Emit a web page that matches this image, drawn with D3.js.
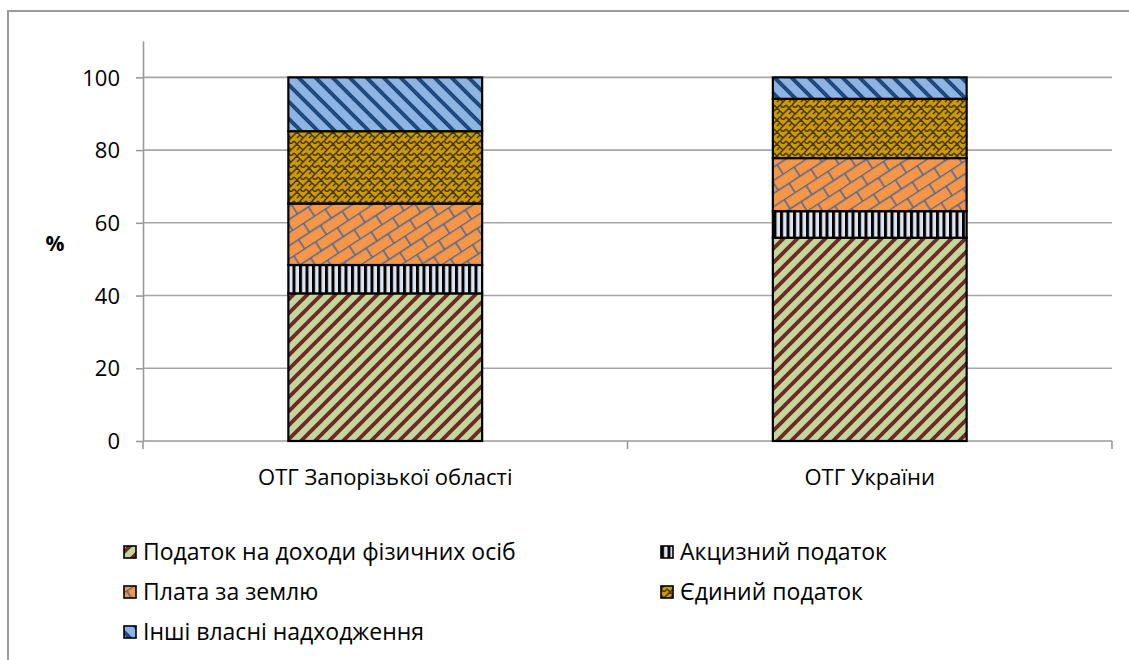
<!DOCTYPE html>
<html>
<head>
<meta charset="utf-8">
<script src="https://cdn.jsdelivr.net/npm/d3@7"></script>
<style>
  html, body { margin: 0; padding: 0; background: #fff; }
  svg { display: block; }
  text { font-family: "Open Sans", "Liberation Sans", sans-serif; fill: #000; }
</style>
</head>
<body>
<svg id="chart" width="1129" height="660"></svg>
<script>
// Structure of own revenues of united territorial communities, %
const categories = ["ОТГ Запорізької області", "ОТГ України"];
const seriesNames = [
  "Податок на доходи фізичних осіб",
  "Акцизний податок",
  "Плата за землю",
  "Єдиний податок",
  "Інші власні надходження"
];
const pitValues    = [40.6, 55.9];
const exciseValues = [7.8, 7.3];
const landValues   = [16.9, 14.6];
const singleValues = [19.9, 16.3];
const otherValues  = [14.8, 5.9];
const yTicks = [0, 20, 40, 60, 80, 100];
const yLabel = "%";

const seriesValues = [pitValues, exciseValues, landValues, singleValues, otherValues];
const rows = categories.map((c, i) => {
  const r = { category: c };
  seriesNames.forEach((s, k) => { r[s] = seriesValues[k][i]; });
  return r;
});

const svg = d3.select("#chart");
const defs = svg.append("defs");

// ---- fill patterns ----
function pattern(id, w, h, bg, draw, transform) {
  const p = defs.append("pattern")
    .attr("id", id).attr("patternUnits", "userSpaceOnUse")
    .attr("width", w).attr("height", h);
  if (transform) p.attr("patternTransform", transform);
  p.append("rect").attr("width", w).attr("height", h).attr("fill", bg);
  draw(p);
}
// wide upward diagonal
pattern("p-pit", 14, 14, "#c3d69b", p => {
  p.append("path").attr("d", "M-2,16 L16,-2 M-9,9 L9,-9 M5,23 L23,5")
    .attr("stroke", "#6e2a25").attr("stroke-width", 3.8);
});
// vertical stripes
pattern("p-excise", 6.5, 10, "#dce6f2", p => {
  p.append("rect").attr("x", 0).attr("width", 3).attr("height", 10).attr("fill", "#000");
});
// diagonal brick
pattern("p-land", 26, 22, "#f79646", p => {
  p.append("path")
    .attr("d", "M0,0.5 H26 M0,11.5 H26 M3,0.5 V11.5 M16,11.5 V22.5")
    .attr("stroke", "#48689a").attr("stroke-width", 1.5).attr("fill", "none");
}, "rotate(-33)");
// weave
pattern("p-single", 12, 12, "#cc9900", p => {
  p.append("path")
    .attr("d", "M0,3 L3,6 L6,3 M6,9 L9,12 L12,9 M6,3 L9,0 L12,3 M0,9 L3,6 M3,12 L0,9 M9,6 L12,3 M6,9 L3,12")
    .attr("stroke", "#2e2300").attr("stroke-width", 1.5).attr("fill", "none").attr("opacity", 0.85);
});
// wide downward diagonal
pattern("p-other", 17, 17, "#8eb4e3", p => {
  p.append("path").attr("d", "M-2,-2 L19,19 M-11,6 L11,28 M6,-11 L28,11")
    .attr("stroke", "#1f4a7d").attr("stroke-width", 4);
});
const fills = ["url(#p-pit)", "url(#p-excise)", "url(#p-land)", "url(#p-single)", "url(#p-other)"];

// ---- chart frame ----
svg.append("rect")
  .attr("x", 8).attr("y", 11).attr("width", 1140).attr("height", 680)
  .attr("fill", "none").attr("stroke", "#9a9a9a").attr("stroke-width", 2);

// ---- scales ----
const x = d3.scaleBand().domain(categories).range([143, 1112])
  .paddingInner(0.6).paddingOuter(0.3);
const y = d3.scaleLinear().domain([0, 110]).range([441, 41]);

// gridlines
svg.append("g").selectAll("line").data(yTicks.slice(1)).join("line")
  .attr("x1", 143).attr("x2", 1112)
  .attr("y1", d => y(d)).attr("y2", d => y(d))
  .attr("stroke", "#a6a6a6").attr("stroke-width", 1.6);

// y axis
const yAxis = svg.append("g").attr("transform", "translate(143,0)")
  .call(d3.axisLeft(y).tickValues(yTicks).tickSize(7).tickPadding(16).tickSizeOuter(0));
yAxis.select(".domain").attr("stroke", "#9a9a9a").attr("stroke-width", 1.6);
yAxis.selectAll(".tick line").attr("stroke", "#9a9a9a").attr("stroke-width", 1.6);
yAxis.selectAll(".tick text").style("font-size", "22px").attr("dy", "0.35em");

// x axis line and category separators
svg.append("line").attr("x1", 143).attr("x2", 1112).attr("y1", y(0)).attr("y2", y(0))
  .attr("stroke", "#9a9a9a").attr("stroke-width", 1.6);
const bounds = d3.range(categories.length + 1).map(i => x.range()[0] + i * x.step());
svg.append("g").selectAll("line").data(bounds).join("line")
  .attr("x1", d => d).attr("x2", d => d).attr("y1", y(0)).attr("y2", y(0) + 8)
  .attr("stroke", "#9a9a9a").attr("stroke-width", 1.6);
svg.append("g").selectAll("text").data(categories).join("text")
  .attr("x", d => x(d) + x.bandwidth() / 2).attr("y", 485)
  .attr("text-anchor", "middle").style("font-size", "22px").text(d => d);

// y label
svg.append("text").attr("x", 55).attr("y", 251).attr("text-anchor", "middle")
  .style("font-size", "21px").style("font-weight", "bold").text(yLabel);

// ---- stacked bars ----
const stacked = d3.stack().keys(seriesNames)(rows);
svg.append("g").selectAll("g").data(stacked).join("g")
  .attr("fill", (d, i) => fills[i])
  .selectAll("rect").data(d => d).join("rect")
  .attr("x", d => x(d.data.category))
  .attr("width", x.bandwidth())
  .attr("y", d => y(d[1]))
  .attr("height", d => y(d[0]) - y(d[1]))
  .attr("stroke", "#000").attr("stroke-width", 2.2);

// ---- legend ----
const legendPos = [[124, 552], [661, 552], [124, 592], [661, 592], [124, 632]];
const lg = svg.append("g").selectAll("g").data(seriesNames).join("g")
  .attr("transform", (d, i) => `translate(${legendPos[i][0]},${legendPos[i][1]})`);
lg.append("rect").attr("x", 0).attr("y", -6).attr("width", 12).attr("height", 12)
  .attr("fill", (d, i) => fills[i]).attr("stroke", "#000").attr("stroke-width", 1.6);
lg.append("text").attr("x", 19).attr("y", 0).attr("dy", "0.36em")
  .style("font-size", "23px").text(d => d);
</script>
</body>
</html>
